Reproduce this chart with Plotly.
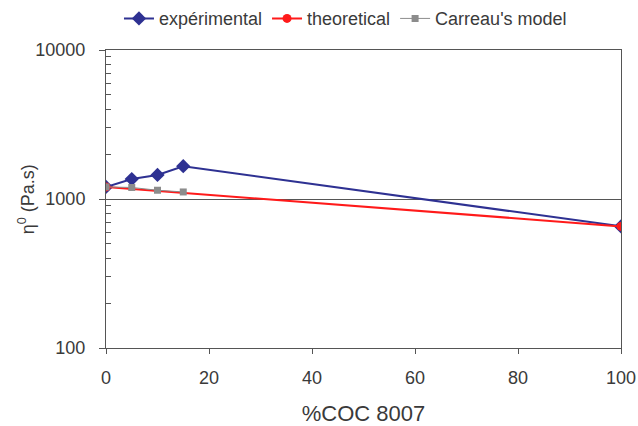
import plotly.graph_objects as go

x_exp = [0, 5, 10, 15, 100]
y_exp = [1205, 1360, 1450, 1660, 655]
x_theo = [0, 100]
y_theo = [1205, 655]
x_carreau = [0, 5, 10, 15]
y_carreau = [1205, 1195, 1145, 1115]

y_major = [100, 1000, 10000]
y_minor = [200, 300, 400, 500, 600, 700, 800, 900,
           2000, 3000, 4000, 5000, 6000, 7000, 8000, 9000]

FONT = "Liberation Sans, Arial, sans-serif"
TXT = "#3a3a3a"
AX = "#555555"

fig = go.Figure()
fig.add_trace(go.Scatter(x=x_exp, y=y_exp, name="expérimental", mode="lines+markers",
                         line=dict(color="#2e3192", width=2),
                         marker=dict(symbol="diamond", size=11, color="#2e3192")))
fig.add_trace(go.Scatter(x=x_theo, y=y_theo, name="theoretical", mode="lines+markers",
                         line=dict(color="#ff1a1a", width=2),
                         marker=dict(symbol="circle", size=9, color="#ff1a1a")))
fig.add_trace(go.Scatter(x=x_carreau, y=y_carreau, name="Carreau's model", mode="lines+markers",
                         line=dict(color="#8c8c8c", width=1),
                         marker=dict(symbol="square", size=7, color="#8c8c8c")))

fig.update_layout(
    width=638, height=426,
    margin=dict(l=106, r=17, t=50, b=78, autoexpand=False),
    paper_bgcolor="white", plot_bgcolor="white",
    font=dict(family=FONT, size=18, color=TXT),
    showlegend=True,
    legend=dict(orientation="h", x=0.465, xanchor="center", y=1.105, yanchor="middle",
                font=dict(size=18), itemwidth=30, tracegroupgap=0,
                bgcolor="rgba(0,0,0,0)"),
    xaxis=dict(range=[0, 100], tick0=0, dtick=20, showgrid=False,
               showline=True, linecolor=AX, linewidth=1, mirror=True,
               ticks="outside", ticklen=5, tickcolor=AX, ticklabelstandoff=8,
               zeroline=False,
               title=dict(text="%COC 8007", standoff=20)),
    yaxis=dict(type="log", range=[2, 4], tickvals=y_major,
               ticktext=[str(v) for v in y_major],
               showgrid=True, gridcolor=AX, gridwidth=1,
               showline=True, linecolor=AX, linewidth=1, mirror=True,
               ticks="outside", ticklen=6, tickcolor=AX, ticklabelstandoff=10,
               minor=dict(tickvals=y_minor, ticks="inside", ticklen=5,
                          tickwidth=1, tickcolor=AX, showgrid=False),
               zeroline=False),
    annotations=[dict(text="η<sup>0</sup> (Pa.s)", textangle=-90,
                      xref="paper", yref="paper", x=-0.155, y=0.5,
                      xanchor="center", yanchor="middle", showarrow=False,
                      font=dict(size=18, color=TXT))],
)

fig.write_html("out.html")
